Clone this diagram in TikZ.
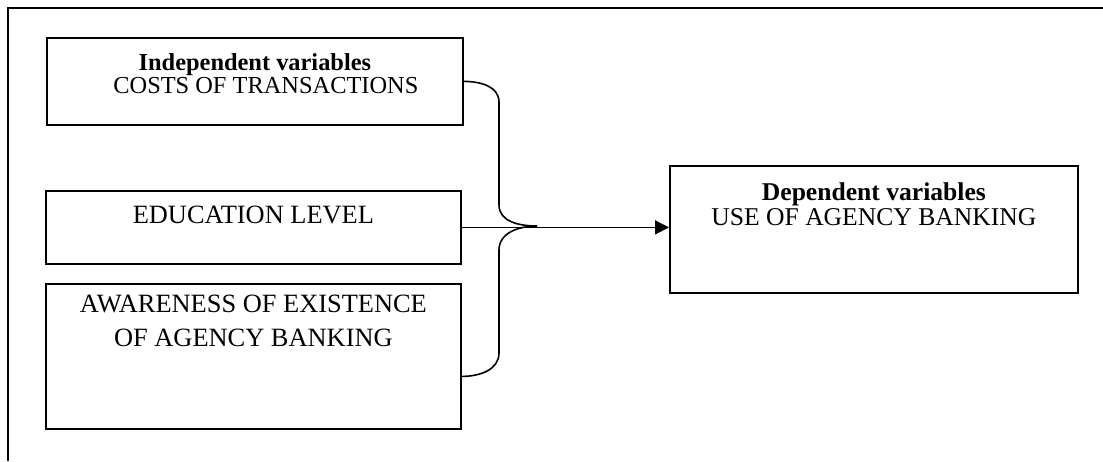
\documentclass[tikz,border=0pt]{standalone}
\usepackage{fontspec}
\setmainfont{Liberation Serif}
\usepackage{tikz}
\usetikzlibrary{arrows.meta,calc,positioning}
\newcommand{\vartext}[4]{\parbox[c][#2][t]{#1}{\centering\rule{0pt}{#3}#4}}

\begin{document}
\begin{tikzpicture}[x=0.5pt, y=-0.5pt]
		\tikzset{varbox/.style={draw, line width=0.9pt, inner sep=0pt, anchor=north west}}
		\useasboundingbox (0,0) rectangle (1103,461);
		% Frame
		\draw[line width=1.2pt] (1103,8) -- (8,8) -- (8,461);
		% Independent variables
		\node[varbox, font=\fontsize{12.2}{11.5}\selectfont] at (46,37) (cost) {\vartext{208pt}{43.5pt}{16.5pt}{\textbf{Independent variables}\\ \hspace*{11pt}COSTS OF TRANSACTIONS}};
		\node[varbox, font=\fontsize{13.2}{15}\selectfont] at (45,190) (edu) {\vartext{207.5pt}{36.5pt}{16.5pt}{EDUCATION LEVEL}};
		\node[varbox, font=\fontsize{13.2}{17}\selectfont] at (45,283) (aware) {\vartext{207.5pt}{72.5pt}{14.5pt}{AWARENESS OF EXISTENCE\\ OF AGENCY BANKING}};
		% Dependent variable
		\node[varbox, font=\fontsize{12.8}{12.5}\selectfont] at (669,165) (dep) {\vartext{204pt}{63.5pt}{17.5pt}{\textbf{Dependent variables}\\ USE OF AGENCY BANKING}};
		% Brace
		\coordinate (tip) at (537,226);
		\coordinate (awareend) at ($(aware.east)+(0,20)$);
		\draw[line width=0.8pt] (cost.east) to[out=0, in=90] (499,102) -- (499,205) to[out=-90, in=180] (tip);
		\draw[line width=0.8pt] (tip) to[out=180, in=90] (499,250) -- (499,353) to[out=-90, in=0] (awareend);
		% Arrow
		\draw[line width=0.8pt, -{Triangle[length=7pt, width=7pt]}] (edu.east) -- (edu.east -| dep.west);
	\end{tikzpicture}
\end{document}
